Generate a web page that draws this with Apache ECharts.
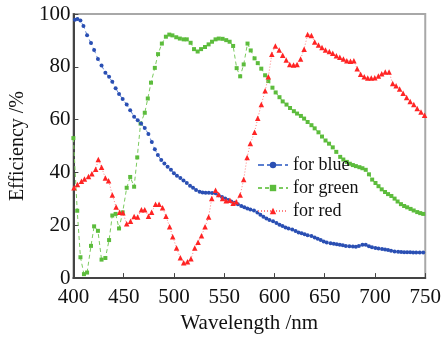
<!DOCTYPE html>
<html><head><meta charset="utf-8">
<script src="https://cdn.jsdelivr.net/npm/echarts@6/dist/echarts.min.js"></script>
<style>html,body{margin:0;padding:0;background:#fff}#c{width:444px;height:339px}</style>
</head><body><div id="c"></div>
<script>
const xTicks = [400,450,500,550,600,650,700,750];
const yTicks = [0,20,40,60,80,100];
const seriesNames = ['for blue','for green','for red'];

const blueX = [401.5,404,407,410,413.6,417.5,420.6,424.4,428,431.8,435.5,438.7,442,445.4,449,453,456.5,460.4,464,467.3,471,474.6,478,481,484,487.4,490.5,493.7,497,500,503,506.4,509.5,512.8,516,519,522,525.5,528.5,531.5,534.7,538,541.4,544.5,547.8,551,554,557,560.5,563.6,567,570,573,576,579.6,583,586,589,592,595,598.6,602,605,608,611,614,617.7,621,624,627,630,633,636.8,640,643,646,649,652,655.8,659,662,665,668,671,674.5,678,681,684,687.5,690.8,694,697,700.4,703.5,707,710,713,716,719.5,723,726,729,732,735,738,741,744.5,748];
const blueY = [97.8,98.1,97.5,95.5,92,89,86.4,83,80.5,77.8,76.2,74.3,71.9,69.7,67.8,65.7,63.6,61.1,59.8,58.5,56.8,54.6,51.5,48.8,46.6,44.7,43.4,42.2,41,39.7,38.8,37.9,37,36,35,34.2,33.4,32.7,32.4,32.3,32.3,32.2,32.1,31.4,30.7,30.1,29.6,29,28.5,28,27.3,26.8,26.4,26,25.6,24.8,24,23.2,22.6,22,21.5,20.9,20.2,19.7,19.2,18.8,18.4,17.8,17.3,17,16.6,16.2,15.9,15.4,14.9,14.4,13.9,13.5,13.2,13,12.8,12.6,12.4,12.2,12.1,12,11.9,12.2,12.6,12.6,12.1,11.7,11.4,11.2,11,10.8,10.6,10.4,10.1,10,9.9,9.8,9.8,9.8,9.7,9.7,9.7,9.7];

const greenX = [400,403.8,407,410.5,413.6,417.5,420.6,424.4,428,431.8,435.5,438.7,442,445.4,449,453,456.5,460.4,463.5,466.8,471,474,477.2,481,484.2,488,492,495.4,498.5,502.3,505.9,509.7,512.8,516.6,520,523.6,527,530.9,534.5,537.9,541.4,544.6,548.4,552,555.4,558.9,562.4,565.9,569.4,573.2,576.4,580.2,583.4,586.9,590.7,593.9,598,601.2,605,608.2,612,615.5,619.3,622.5,626.3,629.5,633,636.8,640,643.8,647.3,650.8,654.3,658,661.5,665.4,668.5,672,675,678,681,684.5,687.5,690.8,694,697.2,700.5,703.5,706.7,710,713,716.3,719.5,722.5,725.8,729,732,735.4,738.5,742,745,748];
const greenY = [53,25.5,7.9,1.5,2.1,12.2,19.6,17.9,7,7.6,14.4,23.7,24.3,18.8,24.9,34.2,38.3,34.6,45.7,58.5,62.6,68,74,79.6,84.8,88.8,91.4,92.2,91.9,91.2,90.7,90.4,90.4,89.1,86.7,85.8,86.7,87.5,88.5,89.5,90.4,90.7,90.6,90.1,89.5,87.9,79.5,76.4,80.9,88.8,86.2,83.2,81.4,79.3,76.8,74.6,72.1,70.3,68.5,66.9,65.7,64.4,63.2,62.3,61.4,60.4,59.1,57.9,56.7,55.2,53.6,52.1,50.9,49.5,47.8,45.9,44.9,44,43.3,42.8,42.4,42,41.6,41,39.3,37.3,36,34.8,33.6,32.6,31.8,31.1,30.1,29,28,27.3,26.8,26.2,25.6,25,24.6,24.3];

const redX = [400.6,404,408,411,415,418.4,422.2,424.8,428,431.8,435,438.7,442.5,446,449.2,453,456.8,460.4,463.9,467.7,471,474.7,477.8,481.7,485.2,488.7,492.1,495.7,498.8,502.6,506.4,509.7,513.5,516.9,520.7,524,527.4,531,534.5,537.6,541.4,544.5,548.4,552,555.7,558.9,562,565.9,569.4,572.8,576,580.2,583.4,586.9,590.7,593.9,597.4,600.9,604.7,608.2,611.7,615.2,619,622.5,626,629.5,633,636.8,640,643.8,647.3,650.8,654.6,658,661.6,665,668.6,672,675.6,679,682.3,685.7,689.3,692.8,696.3,699.8,703.4,706.7,710.2,714,717.6,721,724.5,728,731.5,735,738.6,742,745.8,749.3];
const redY = [34.2,35.4,36.7,37.5,38.5,39.5,41.2,44.9,42,37.9,36.9,31.5,26.9,24.9,24.7,20.6,21.5,23.3,23.1,25.9,25.9,23.4,24.9,28,28,26.6,23.4,19.4,15.7,11.4,7.7,5.8,6.2,7.3,11.4,13.6,16,19.4,23.1,30.1,33.3,31.7,30.1,29.3,29.5,28.3,28.9,31.5,37.3,45.7,51,55.2,60.5,65.7,70.9,76.2,84.8,87.9,86.4,84.4,82.6,80.9,80.7,80.9,83,86.7,92.2,91.9,89.4,88.3,87.3,86.4,85.8,85.1,84.2,83.6,83,82.3,82.1,82.3,79.3,77.2,76.2,75.8,75.8,75.9,76.5,77.4,78,78,73.7,72.8,71.6,70,68.4,66.9,65.7,64.2,62.9,61.7];

const zip = (xs, ys) => xs.map((x, i) => [x, ys[i]]);
const font = 'Liberation Serif';

const chart = echarts.init(document.getElementById('c'), null, {renderer: 'canvas'});
chart.setOption({
  animation: false,
  backgroundColor: '#fff',
  grid: {left: 62, right: 16, top: 14, bottom: 55, show: true, borderColor: '#a8a8a8', borderWidth: 2, backgroundColor: 'transparent'},
  legend: {
    orient: 'vertical', left: 252, top: 151, itemWidth: 30, itemHeight: 8, itemGap: 5,
    textStyle: {fontFamily: font, fontSize: 18, color: '#111'},
    data: seriesNames
  },
  xAxis: {
    type: 'value', min: xTicks[0], max: xTicks[xTicks.length - 1], interval: 50,
    name: 'Wavelength /nm', nameLocation: 'middle', nameGap: 31,
    nameTextStyle: {fontFamily: font, fontSize: 21, color: '#111'},
    axisLine: {lineStyle: {color: '#444', width: 2}},
    axisTick: {inside: true, length: 5, lineStyle: {color: '#444', width: 1}},
    axisLabel: {fontFamily: font, fontSize: 21, color: '#111', margin: 9},
    splitLine: {show: false}
  },
  yAxis: {
    type: 'value', min: yTicks[0], max: yTicks[yTicks.length - 1], interval: 20,
    name: 'Efficiency /%', nameLocation: 'middle', nameGap: 38,
    nameTextStyle: {fontFamily: font, fontSize: 20, color: '#111'},
    axisLine: {show: true, lineStyle: {color: '#444', width: 2}},
    axisTick: {show: true, inside: true, length: 5, lineStyle: {color: '#444', width: 1}},
    axisLabel: {fontFamily: font, fontSize: 21, color: '#111', margin: 3},
    splitLine: {show: false}
  },
  series: [
    {name: seriesNames[0], type: 'line', data: zip(blueX, blueY), symbol: 'circle', symbolSize: 4, showAllSymbol: true,
     itemStyle: {color: '#2a4fb3'}, lineStyle: {color: '#5b7fd0', width: 1, type: [6, 3]}, z: 3},
    {name: seriesNames[1], type: 'line', data: zip(greenX, greenY), symbol: 'rect', symbolSize: 4, showAllSymbol: true,
     itemStyle: {color: '#5cbc3c'}, lineStyle: {color: '#7ccb60', width: 1, type: [4, 3]}, z: 2},
    {name: seriesNames[2], type: 'line', data: zip(redX, redY), symbol: 'triangle', symbolSize: 5.5, showAllSymbol: true,
     itemStyle: {color: '#ff2424'}, lineStyle: {color: '#ff8080', width: 1, type: [1, 2]}, z: 4}
  ]
});
</script></body></html>
